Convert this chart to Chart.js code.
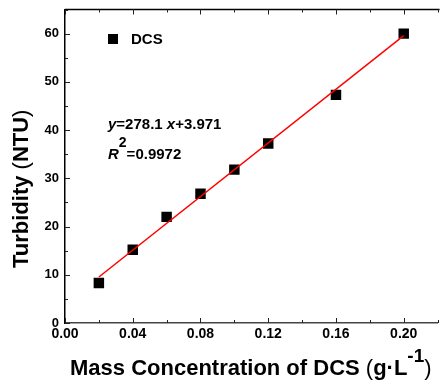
<!DOCTYPE html>
<html>
<head>
<meta charset="utf-8">
<script src="https://cdn.jsdelivr.net/npm/chart.js@4.4.1/dist/chart.umd.min.js"></script>
<style>
  html, body { margin: 0; padding: 0; overflow: hidden; background: #fff; }
  #wrap { width: 445px; height: 384px; }
</style>
</head>
<body>
<div id="wrap"><canvas id="c" width="445" height="384"></canvas></div>
<script>
// Measured points (DCS mass concentration, g/L vs turbidity, NTU)
const conc = [0.02, 0.04, 0.06, 0.08, 0.10, 0.12, 0.16, 0.20];
const turbidity = [8.3, 15.2, 22.0, 26.8, 31.8, 37.2, 47.3, 60.0];

// Linear fit line end points (y=278.1x+3.971)
const fitX = [0.02, 0.20];
const fitY = [9.53, 59.59];

// Tick labels
const xTicks = [0, 0.04, 0.08, 0.12, 0.16, 0.20];
const yTicks = [0, 10, 20, 30, 40, 50, 60];

const FONT = "Arial, 'Liberation Sans', sans-serif";

// inward tick marks, top border, axis titles, legend and equation
const decorations = {
  id: 'decorations',
  afterDraw(chart) {
    const ctx = chart.ctx;
    const a = chart.chartArea;
    const xs = chart.scales.x, ys = chart.scales.y;
    ctx.save();

    // top border
    ctx.strokeStyle = '#000';
    ctx.lineWidth = 1.5;
    ctx.beginPath();
    ctx.moveTo(a.left, a.top);
    ctx.lineTo(a.right + 2, a.top);
    ctx.stroke();

    // ticks
    ctx.lineWidth = 1;
    ctx.strokeStyle = '#222';
    const xMinor = xTicks.map(v => v + 0.02);
    const yMinor = yTicks.map(v => v + 5);
    function xTick(v, len) {
      const px = Math.round(xs.getPixelForValue(v)) + 0.5;
      ctx.beginPath();
      ctx.moveTo(px, a.bottom); ctx.lineTo(px, a.bottom - len);
      ctx.moveTo(px, a.top); ctx.lineTo(px, a.top + len);
      ctx.stroke();
    }
    function yTick(v, len) {
      const py = Math.round(ys.getPixelForValue(v)) + 0.5;
      ctx.beginPath();
      ctx.moveTo(a.left, py); ctx.lineTo(a.left + len, py);
      ctx.stroke();
    }
    xTicks.forEach(v => xTick(v, 5));
    xMinor.forEach(v => xTick(v, 3));
    yTicks.forEach(v => yTick(v, 5));
    yMinor.forEach(v => yTick(v, 3));

    ctx.fillStyle = '#000';
    ctx.textBaseline = 'alphabetic';
    ctx.textAlign = 'left';

    // y axis title
    ctx.save();
    ctx.translate(28, 268);
    ctx.rotate(-Math.PI / 2);
    let x = 0;
    const yParts = [['bold 22px ' + FONT, 'Turbidity '], ['22px ' + FONT, '('],
                    ['bold 22px ' + FONT, 'NTU'], ['22px ' + FONT, ')']];
    yParts.forEach(p => { ctx.font = p[0]; ctx.fillText(p[1], x, 0); x += ctx.measureText(p[1]).width; });
    ctx.restore();

    // x axis title
    x = 70;
    const base = 375;
    const xParts = [['bold 22px ' + FONT, 'Mass Concentration of DCS ', 0], ['22px ' + FONT, '(', 0],
                    ['bold 22px ' + FONT, 'g\u00b7L', 0], ['bold 19px ' + FONT, '-1', -13],
                    ['22px ' + FONT, ')', 0]];
    xParts.forEach(p => { ctx.font = p[0]; ctx.fillText(p[1], x, base + p[2]); x += ctx.measureText(p[1]).width; });

    // legend
    ctx.fillRect(108, 34, 10, 10);
    ctx.font = 'bold 15px ' + FONT;
    ctx.fillText('DCS', 131, 44);

    // equation
    x = 108;
    const eq = [['italic bold 15px ' + FONT, 'y', 0], ['bold 15px ' + FONT, '=278.1', 0],
                ['italic bold 15px ' + FONT, ' x', 0], ['bold 15px ' + FONT, '+3.971', 0]];
    eq.forEach(p => { ctx.font = p[0]; ctx.fillText(p[1], x, 129 + p[2]); x += ctx.measureText(p[1]).width; });
    x = 108;
    const r2 = [['italic bold 15px ' + FONT, 'R', 0], ['bold 14px ' + FONT, '2', -12],
                ['bold 15px ' + FONT, '=0.9972', 0]];
    r2.forEach(p => { ctx.font = p[0]; ctx.fillText(p[1], x, 159 + p[2]); x += ctx.measureText(p[1]).width; });

    ctx.restore();
  }
};

function noPad(s) {
  s.paddingTop = 0; s.paddingBottom = 0; s.paddingLeft = 0; s.paddingRight = 0;
}

new Chart(document.getElementById('c'), {
  type: 'scatter',
  data: {
    datasets: [
      {
        label: 'DCS',
        data: conc.map((v, i) => ({ x: v, y: turbidity[i] })),
        pointStyle: 'rect',
        pointRadius: 7.4,
        pointHoverRadius: 7.4,
        backgroundColor: '#000',
        borderColor: '#000',
        borderWidth: 0,
        order: 1
      },
      {
        label: 'Fit',
        data: fitX.map((v, i) => ({ x: v, y: fitY[i] })),
        showLine: true,
        borderColor: '#ff0000',
        borderWidth: 1.5,
        pointRadius: 0,
        order: 0
      }
    ]
  },
  options: {
    responsive: false,
    animation: false,
    layout: { padding: { top: 9.5, left: 0, right: 0, bottom: 0 } },
    plugins: { legend: { display: false }, tooltip: { enabled: false } },
    scales: {
      x: {
        type: 'linear',
        min: 0,
        max: 0.22,
        afterFit: s => { s.height = 61; noPad(s); },
        afterBuildTicks: s => { s.ticks = xTicks.map(v => ({ value: v })); },
        grid: { display: true, drawOnChartArea: false, drawTicks: false },
        border: { display: true, color: '#444', width: 1.5 },
        ticks: {
          padding: 3,
          color: '#000',
          font: { family: FONT, size: 14, weight: 'bold' },
          maxRotation: 0,
          callback: v => v.toFixed(2)
        }
      },
      y: {
        min: 0,
        max: 65,
        afterFit: s => { s.width = 65; noPad(s); },
        afterBuildTicks: s => { s.ticks = yTicks.map(v => ({ value: v })); },
        grid: { display: true, drawOnChartArea: false, drawTicks: false },
        border: { display: true, color: '#000', width: 1.5 },
        ticks: {
          padding: 6,
          color: '#000',
          font: { family: FONT, size: 13, weight: 'bold' },
          callback: v => String(v)
        }
      }
    }
  },
  plugins: [decorations]
});
</script>
</body>
</html>
